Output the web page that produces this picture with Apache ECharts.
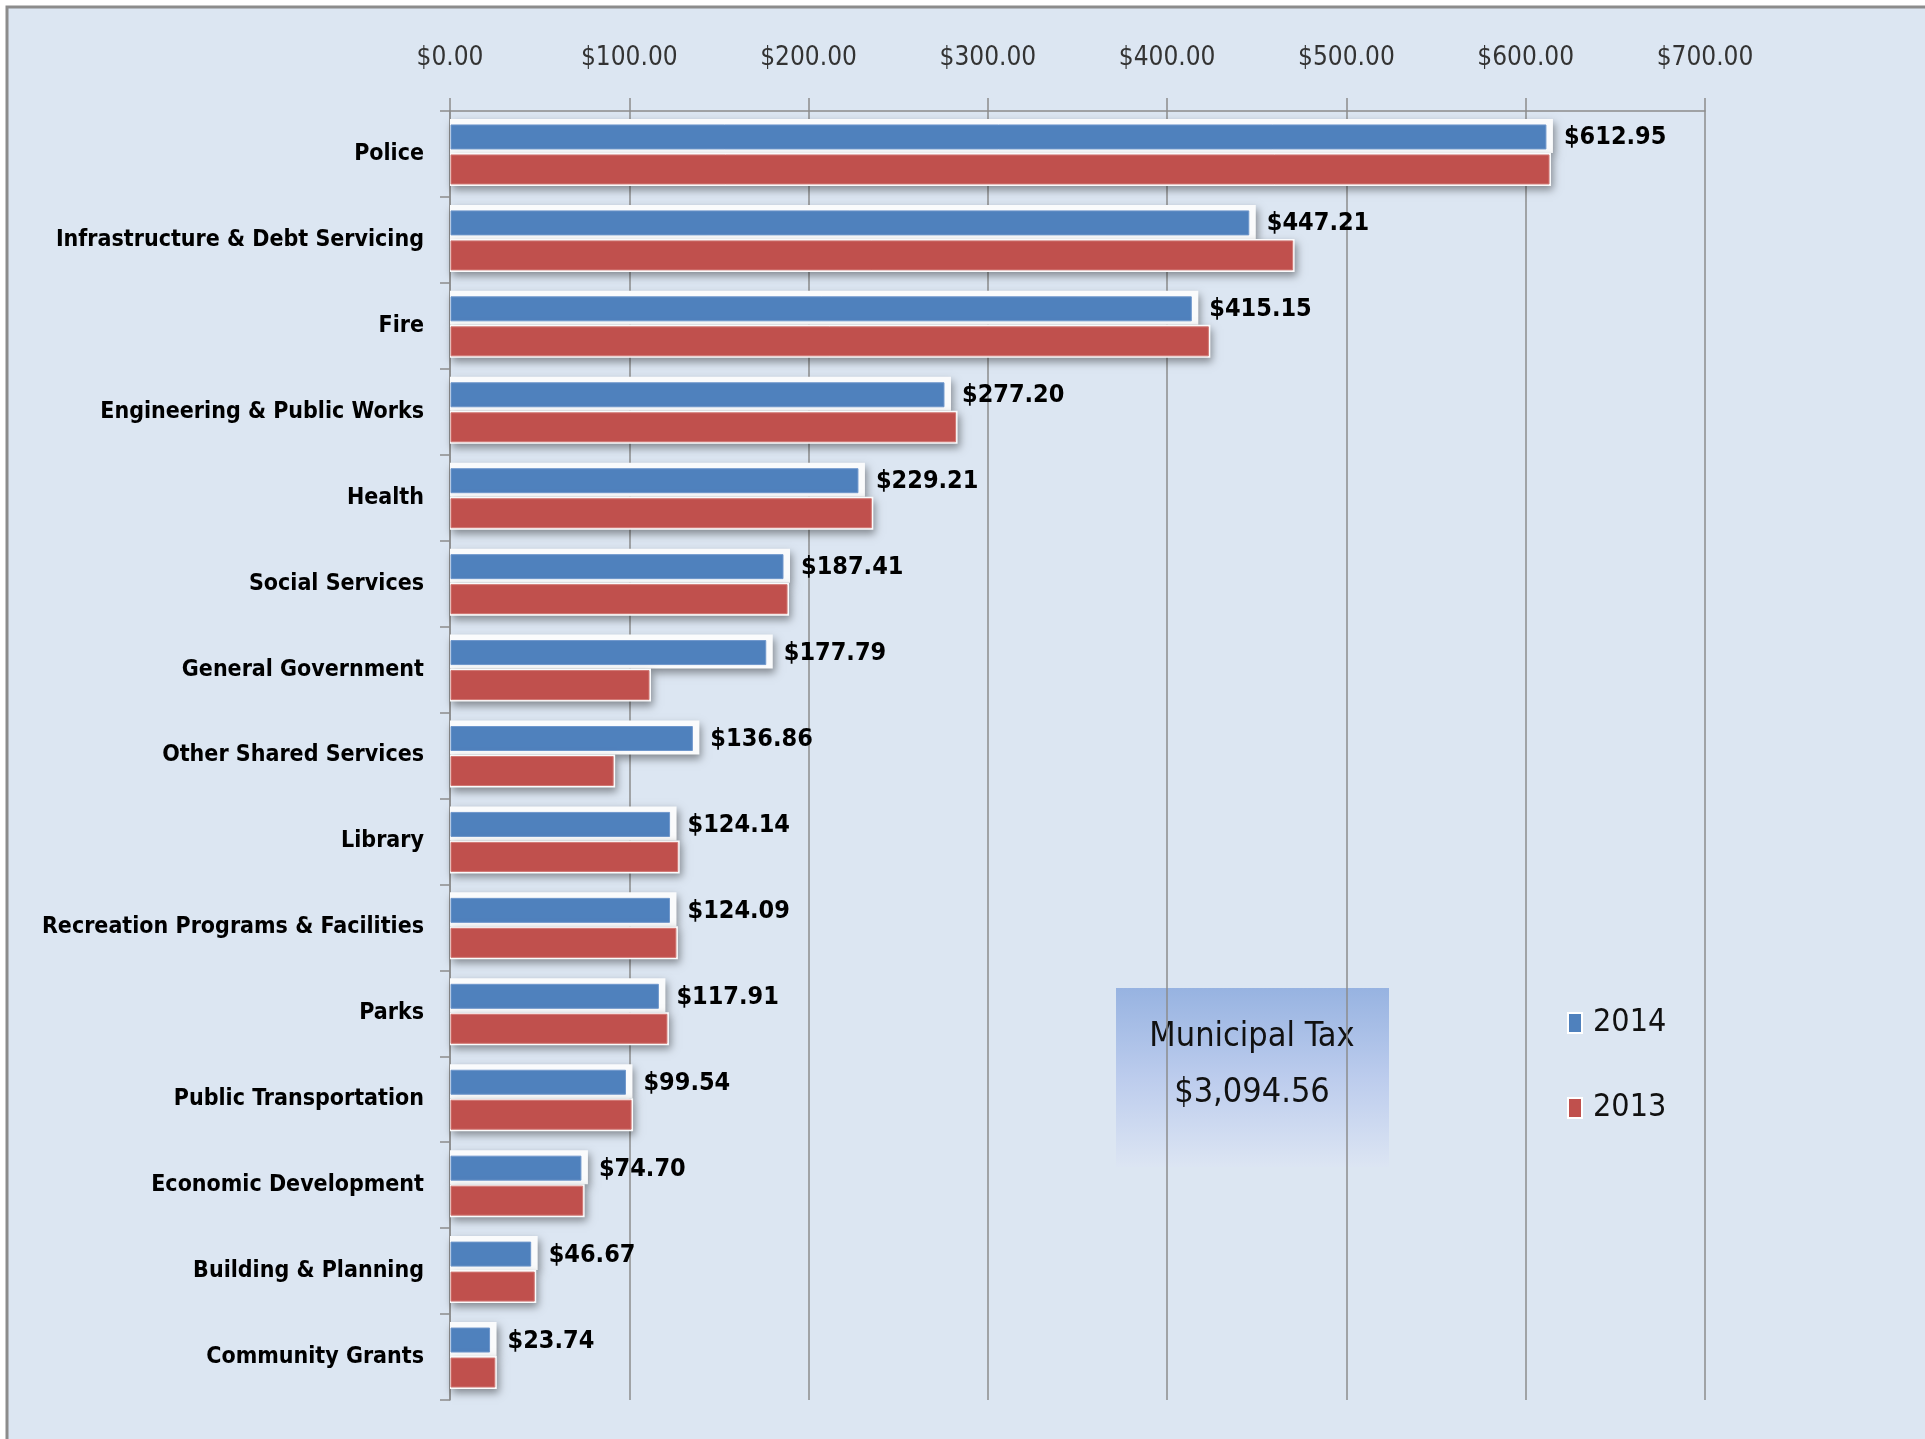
<!DOCTYPE html>
<html>
<head>
<meta charset="utf-8">
<title>Municipal Tax by Service</title>
<script src="https://cdn.jsdelivr.net/npm/echarts@6/dist/echarts.min.js"></script>
<style>
	html, body { margin: 0; padding: 0; background: #fff; }
	#chart { width: 1925px; height: 1439px; }
</style>
</head>
<body>
<div id="chart"></div>
<script>
/* Data */
const categories = [
	"Police",
	"Infrastructure & Debt Servicing",
	"Fire",
	"Engineering & Public Works",
	"Health",
	"Social Services",
	"General Government",
	"Other Shared Services",
	"Library",
	"Recreation Programs & Facilities",
	"Parks",
	"Public Transportation",
	"Economic Development",
	"Building & Planning",
	"Community Grants",
];
const values2014 = [612.95, 447.21, 415.15, 277.20, 229.21, 187.41, 177.79, 136.86, 124.14, 124.09, 117.91, 99.54, 74.70, 46.67, 23.74];
const values2013 = [613, 470, 423, 282, 235, 188, 111, 91, 127, 126, 121, 101, 74, 47, 25];
const seriesNames = ["2014", "2013"];
const xTicks = [0, 100, 700];   // min, interval, max of the value axis
const boxTitle = "Municipal Tax";
const boxTotal = "$3,094.56";

const FONT = "'Liberation Sans Narrow', 'DejaVu Sans Condensed', 'Liberation Sans', sans-serif";
const BLUE = "#4f81bd";
const RED = "#c0504d";
const money = (v) => "$" + Number(v).toFixed(2);

/* Renderers */
const frameShadow = () => ({
	shadowColor: "rgba(0, 0, 0, 0.4)",
	shadowBlur: 8,
	shadowOffsetX: 2,
	shadowOffsetY: 4,
});

function bar2014Renderer(params, api) {
	/*
	 * Upper bar of each pair: white frame, blue fill, value label
	 */
	const value = api.value(0);
	const zero = api.coord([0, api.value(1)]);
	const end = api.coord([value, api.value(1)]);
	const cy = zero[1] + 1;

	return {
		type: "group",
		children: [
			{
				type: "rect",
				shape: { x: zero[0], y: cy - 36, width: end[0] - zero[0] + 4, height: 34 },
				style: Object.assign({ fill: "#fafbfc" }, frameShadow()),
			},
			{
				type: "rect",
				shape: { x: zero[0] + 1, y: cy - 30, width: end[0] - zero[0] - 4, height: 24 },
				style: { fill: BLUE, stroke: "#6f97cc", lineWidth: 1 },
			},
			{
				type: "text",
				x: end[0] + 15,
				y: cy - 17,
				style: {
					text: money(value),
					fontSize: 25,
					fontWeight: "bold",
					fontFamily: FONT,
					fill: "#000",
					align: "left",
					verticalAlign: "middle",
				},
			},
		],
	};
}

function bar2013Renderer(params, api) {
	/*
	 * Lower bar of each pair: thin white frame, red fill
	 */
	const value = api.value(0);
	const zero = api.coord([0, api.value(1)]);
	const end = api.coord([value, api.value(1)]);
	const cy = zero[1] + 1;

	return {
		type: "group",
		children: [
			{
				type: "rect",
				shape: { x: zero[0], y: cy - 2, width: end[0] - zero[0] + 2, height: 33 },
				style: Object.assign({ fill: "#fafbfc" }, frameShadow()),
			},
			{
				type: "rect",
				shape: { x: zero[0] + 1, y: cy, width: end[0] - zero[0] - 1, height: 29 },
				style: { fill: RED, stroke: "#d27874", lineWidth: 1 },
			},
		],
	};
}

const option = {
	animation: false,
	textStyle: { fontFamily: FONT },
	grid: { left: 450, top: 111, right: 220, bottom: 39, containLabel: false, outerBoundsMode: "none" },
	graphic: [
		{
			// panel with grey frame on top and left
			type: "rect",
			z: -10,
			silent: true,
			shape: { x: 7, y: 7, width: 1940, height: 1460 },
			style: { fill: "#dce6f2", stroke: "#8c8c8c", lineWidth: 3 },
		},
		{
			type: "group",
			left: 1116,
			top: 988,
			z: 50,
			children: [
				{
					type: "rect",
					shape: { x: 0, y: 0, width: 273, height: 179 },
					style: {
						fill: new echarts.graphic.LinearGradient(0, 0, 0, 1, [
							{ offset: 0, color: "#97b3e1" },
							{ offset: 0.5, color: "#bccced" },
							{ offset: 1, color: "#dce5f3" },
						]),
					},
				},
				{
					type: "text",
					x: 136,
					y: 49,
					style: {
						text: boxTitle,
						fontSize: 34,
						fontFamily: FONT,
						fill: "#111",
						align: "center",
						verticalAlign: "middle",
					},
				},
				{
					type: "text",
					x: 136,
					y: 105,
					style: {
						text: boxTotal,
						fontSize: 34,
						fontFamily: FONT,
						fill: "#111",
						align: "center",
						verticalAlign: "middle",
					},
				},
			],
		},
	],
	legend: {
		data: seriesNames,
		orient: "vertical",
		left: 1562,
		top: 1002,
		itemWidth: 14,
		itemHeight: 20,
		itemGap: 53,
		icon: "rect",
		itemStyle: { borderColor: "#fff", borderWidth: 2 },
		textStyle: { fontSize: 32, color: "#111", fontFamily: FONT, padding: [0, 0, 0, 6] },
	},
	xAxis: {
		type: "value",
		position: "top",
		min: xTicks[0],
		interval: xTicks[1],
		max: xTicks[2],
		axisLine: { show: true, lineStyle: { color: "#8c8c8c", width: 1.5 } },
		axisTick: { show: true, length: 13, lineStyle: { color: "#8c8c8c", width: 1.5 } },
		axisLabel: {
			formatter: money,
			fontSize: 26,
			color: "#333",
			margin: 40,
			fontFamily: FONT,
		},
		splitLine: { show: true, lineStyle: { color: "#8c8c8c", width: 1.5 } },
	},
	yAxis: {
		type: "category",
		inverse: true,
		data: categories,
		axisLine: { show: true, lineStyle: { color: "#8c8c8c", width: 1.5 } },
		axisTick: { show: true, length: 10, lineStyle: { color: "#8c8c8c", width: 1.5 } },
		axisLabel: {
			fontSize: 23,
			fontWeight: "bold",
			color: "#000",
			margin: 26,
			fontFamily: FONT,
		},
	},
	series: [
		{
			name: seriesNames[0],
			type: "custom",
			renderItem: bar2014Renderer,
			encode: { x: 0, y: 1 },
			itemStyle: { color: BLUE },
			data: values2014.map((v, i) => [v, i]),
		},
		{
			name: seriesNames[1],
			type: "custom",
			renderItem: bar2013Renderer,
			encode: { x: 0, y: 1 },
			itemStyle: { color: RED },
			data: values2013.map((v, i) => [v, i]),
		},
	],
};

const myChart = echarts.init(document.getElementById("chart"));
myChart.setOption(option);

window.addEventListener("resize", function () {
	myChart.resize();
});
</script>
</body>
</html>
